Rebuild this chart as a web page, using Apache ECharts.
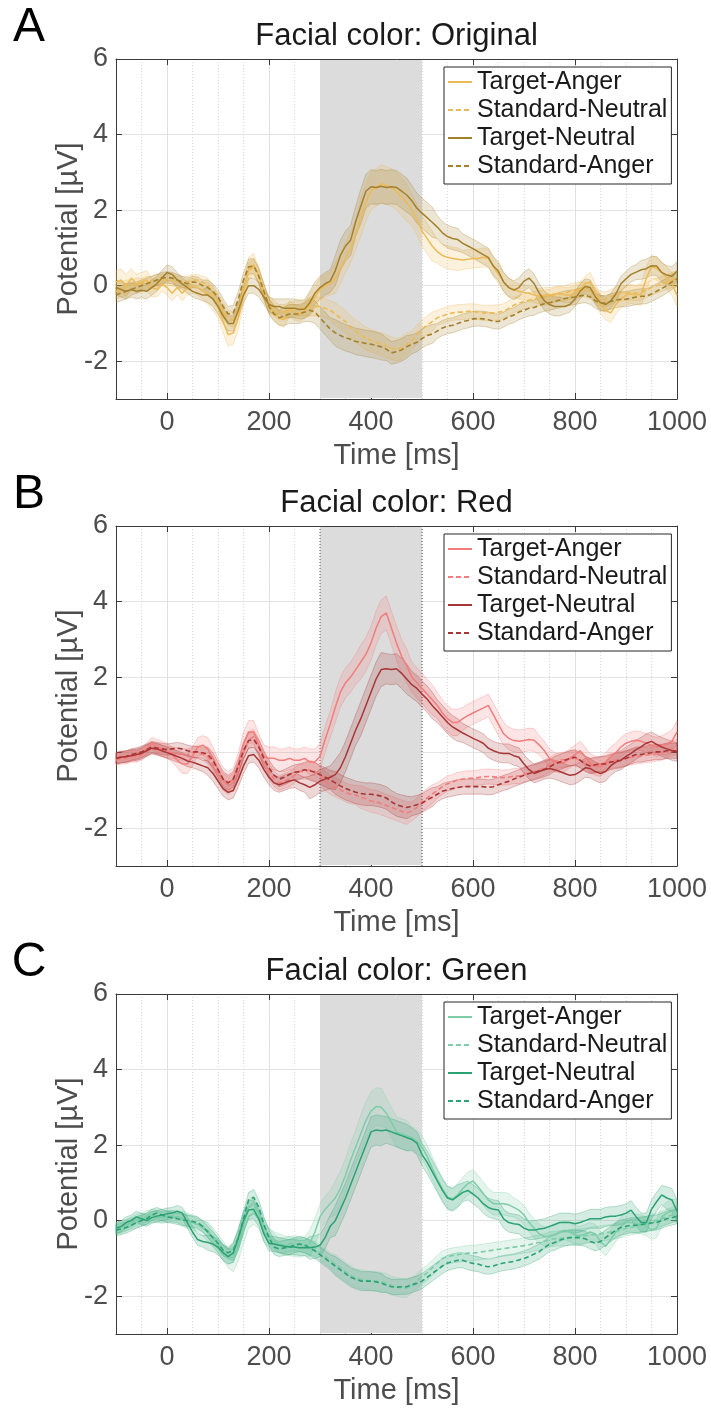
<!DOCTYPE html>
<html><head><meta charset="utf-8">
<script src="https://cdn.jsdelivr.net/npm/echarts@6/dist/echarts.min.js"></script>
<style>html,body{margin:0;padding:0;background:#fff}#chart{width:711px;height:1411px}</style>
</head><body><div id="chart"></div>
<script>
// ---------------- DATA ----------------
const times = [
 -100,-90,-80,-70,-60,-50,-40,-30,-20,-10,
 0,10,20,30,40,50,60,70,80,90,
 100,110,120,130,140,150,160,170,180,190,
 200,210,220,230,240,250,260,270,280,290,
 300,310,320,330,340,350,360,370,380,390,
 400,410,420,430,440,450,460,470,480,490,
 500,510,520,530,540,550,560,570,580,590,
 600,610,620,630,640,650,660,670,680,690,
 700,710,720,730,740,750,760,770,780,790,
 800,810,820,830,840,850,860,870,880,890,
 900,910,920,930,940,950,960,970,980,990,
 1000];
const seTimes = [-100,-50,0,50,100,150,200,250,300,350,400,450,500,550,600,650,700,750,800,850,900,950,1000];
const windowMs = [300, 500];
const xTicks = [0,200,400,600,800,1000];
const yTicks = [-2,0,2,4,6];
const seriesNames = ['Target-Anger','Standard-Neutral','Target-Neutral','Standard-Anger'];
const panelLetters = ['A','B','C'];
const panelTitles = ['Facial color: Original','Facial color: Red','Facial color: Green'];

// Panel A (Original)
const A_TA = [
 0.1,0.15,0.0,0.2,0.05,0.1,0.15,-0.05,-0.1,0.05,
 -0.05,-0.2,-0.05,-0.2,-0.05,0.0,-0.05,-0.15,-0.2,-0.35,
 -0.55,-0.95,-1.3,-1.25,-0.85,-0.2,0.45,0.55,0.25,-0.2,
 -0.55,-0.7,-0.85,-0.9,-0.6,-0.7,-0.75,-0.65,-0.5,-0.3,
 -0.1,0.0,0.05,0.2,0.45,0.75,1.0,1.35,1.8,2.2,
 2.5,2.6,2.7,2.65,2.6,2.5,2.35,2.2,2.0,1.75,
 1.45,1.25,1.05,0.9,0.8,0.75,0.72,0.7,0.68,0.7,
 0.72,0.72,0.75,0.72,0.5,0.3,0.1,-0.05,-0.1,-0.15,
 -0.18,-0.2,-0.25,-0.28,-0.25,-0.25,-0.22,-0.2,-0.25,-0.25,
 -0.2,-0.1,0.05,0.1,-0.2,-0.5,-0.65,-0.72,-0.5,-0.35,
 -0.25,-0.22,-0.25,-0.22,0.2,0.5,0.45,0.35,0.2,0.05,
 -0.25];
const A_SN = [
 -0.15,-0.1,-0.05,0.0,0.05,0.05,0.1,0.1,0.15,0.15,
 0.15,0.15,0.1,0.1,0.1,0.15,0.15,0.1,0.0,-0.2,
 -0.4,-0.65,-0.85,-0.9,-0.6,-0.1,0.4,0.5,0.3,-0.15,
 -0.5,-0.6,-0.7,-0.7,-0.65,-0.6,-0.6,-0.6,-0.55,-0.55,
 -0.55,-0.6,-0.65,-0.75,-0.85,-0.95,-1.1,-1.2,-1.3,-1.4,
 -1.45,-1.5,-1.55,-1.6,-1.65,-1.7,-1.65,-1.55,-1.45,-1.3,
 -1.15,-1.05,-0.95,-0.85,-0.8,-0.75,-0.72,-0.7,-0.7,-0.68,
 -0.68,-0.7,-0.72,-0.72,-0.72,-0.7,-0.68,-0.6,-0.52,-0.46,
 -0.42,-0.38,-0.35,-0.33,-0.32,-0.3,-0.25,-0.22,-0.2,-0.15,
 -0.12,-0.1,-0.1,-0.15,-0.25,-0.35,-0.37,-0.3,-0.22,-0.2,
 -0.2,-0.18,-0.2,-0.18,-0.12,-0.05,0.0,0.05,0.1,0.15,
 0.2];
const A_TN = [
 -0.05,-0.1,-0.15,-0.1,-0.15,-0.12,-0.15,-0.05,0.05,0.2,
 0.35,0.3,0.15,0.05,-0.05,-0.15,-0.2,-0.25,-0.25,-0.35,
 -0.55,-0.8,-1.0,-1.0,-0.65,-0.25,0.0,0.0,-0.1,-0.3,
 -0.5,-0.55,-0.55,-0.6,-0.6,-0.6,-0.63,-0.62,-0.45,-0.2,
 -0.05,0.05,0.12,0.4,0.8,1.05,1.2,1.7,2.1,2.5,
 2.62,2.6,2.63,2.6,2.62,2.6,2.5,2.4,2.25,2.05,
 1.92,1.8,1.68,1.55,1.4,1.3,1.25,1.22,1.12,1.05,
 0.98,0.9,0.82,0.75,0.52,0.38,0.1,-0.05,-0.12,-0.05,
 0.12,0.2,0.05,-0.2,-0.4,-0.5,-0.55,-0.55,-0.55,-0.5,
 -0.35,-0.15,-0.02,-0.05,-0.3,-0.45,-0.5,-0.4,-0.22,0.05,
 0.18,0.3,0.36,0.42,0.45,0.53,0.52,0.35,0.28,0.25,
 0.38];
const A_SA = [
 -0.25,-0.2,-0.15,-0.1,-0.05,0.0,0.05,0.1,0.15,0.2,
 0.22,0.2,0.15,0.1,0.05,0.1,0.08,0.0,-0.05,-0.15,
 -0.3,-0.55,-0.75,-0.72,-0.35,0.15,0.5,0.52,0.25,-0.15,
 -0.55,-0.75,-0.85,-0.8,-0.75,-0.75,-0.75,-0.7,-0.65,-0.7,
 -0.85,-1.0,-1.15,-1.25,-1.32,-1.38,-1.42,-1.48,-1.5,-1.53,
 -1.55,-1.58,-1.62,-1.68,-1.78,-1.75,-1.7,-1.62,-1.55,-1.5,
 -1.4,-1.32,-1.28,-1.2,-1.12,-1.07,-1.05,-1.0,-0.95,-0.92,
 -0.88,-0.87,-0.88,-0.9,-0.94,-0.95,-0.9,-0.82,-0.78,-0.7,
 -0.65,-0.6,-0.58,-0.52,-0.48,-0.45,-0.42,-0.38,-0.34,-0.32,
 -0.3,-0.27,-0.25,-0.3,-0.4,-0.46,-0.46,-0.42,-0.38,-0.36,
 -0.36,-0.33,-0.3,-0.28,-0.28,-0.22,-0.15,-0.08,0.0,0.1,
 0.18];
const A_TA_se = [0.3,0.25,0.2,0.2,0.3,0.3,0.2,0.2,0.3,0.4,0.5,0.5,0.4,0.3,0.25,0.25,0.2,0.2,0.2,0.25,0.25,0.3,0.3];
const A_SN_se = [0.2,0.15,0.15,0.15,0.2,0.2,0.2,0.2,0.25,0.3,0.3,0.3,0.25,0.2,0.2,0.2,0.2,0.2,0.2,0.2,0.2,0.2,0.2];
const A_TN_se = [0.2,0.2,0.2,0.15,0.2,0.2,0.2,0.25,0.3,0.4,0.45,0.45,0.4,0.3,0.25,0.25,0.25,0.25,0.2,0.2,0.2,0.25,0.25];
const A_SA_se = [0.2,0.15,0.15,0.15,0.2,0.2,0.2,0.25,0.3,0.35,0.35,0.3,0.25,0.2,0.2,0.2,0.2,0.2,0.2,0.2,0.2,0.2,0.2];

// Panel B (Red)
const B_TA = [
 -0.15,-0.1,-0.12,-0.05,-0.08,0.0,0.1,0.25,0.15,0.1,
 0.05,-0.05,-0.2,-0.3,-0.3,-0.1,0.15,0.2,0.1,-0.15,
 -0.45,-0.7,-0.8,-0.7,-0.3,0.25,0.55,0.55,0.2,-0.1,
 -0.15,-0.15,-0.2,-0.2,-0.15,-0.2,-0.2,-0.15,-0.25,-0.25,
 -0.1,0.35,0.75,1.2,1.6,1.85,2.0,2.2,2.4,2.6,
 2.9,3.3,3.6,3.7,3.3,2.9,2.55,2.3,2.0,1.85,
 1.7,1.55,1.4,1.25,1.05,0.9,0.8,0.8,0.9,0.98,
 1.05,1.12,1.18,1.25,1.0,0.75,0.5,0.38,0.32,0.3,
 0.32,0.35,0.33,0.2,0.05,-0.15,-0.25,-0.28,-0.25,-0.15,
 -0.05,0.05,-0.1,-0.28,-0.35,-0.38,-0.25,-0.1,0.0,0.15,
 0.25,0.3,0.33,0.3,0.25,0.2,0.15,0.2,0.22,0.3,
 0.55];
const B_SN = [
 -0.2,-0.15,-0.15,-0.1,-0.1,-0.05,0.05,0.12,0.08,0.05,
 0.02,0.0,-0.02,-0.05,-0.05,0.0,0.02,-0.05,-0.1,-0.3,
 -0.55,-0.75,-0.85,-0.75,-0.45,0.0,0.35,0.42,0.15,-0.2,
 -0.5,-0.7,-0.8,-0.75,-0.7,-0.6,-0.5,-0.5,-0.45,-0.5,
 -0.6,-0.75,-0.85,-0.92,-0.98,-1.05,-1.1,-1.12,-1.18,-1.22,
 -1.28,-1.3,-1.35,-1.4,-1.45,-1.5,-1.55,-1.6,-1.55,-1.45,
 -1.3,-1.2,-1.1,-1.0,-0.9,-0.82,-0.78,-0.72,-0.7,-0.68,
 -0.68,-0.66,-0.64,-0.63,-0.64,-0.65,-0.66,-0.65,-0.62,-0.62,
 -0.58,-0.54,-0.5,-0.46,-0.4,-0.32,-0.25,-0.2,-0.18,-0.15,
 -0.15,-0.2,-0.28,-0.35,-0.35,-0.3,-0.28,-0.22,-0.2,-0.18,
 -0.15,-0.12,-0.1,-0.08,-0.06,-0.05,-0.02,0.0,0.05,0.12,
 0.15];
const B_TN = [
 -0.15,-0.12,-0.1,-0.08,-0.05,-0.02,0.05,0.12,0.1,0.05,
 0.0,-0.05,-0.1,-0.15,-0.22,-0.25,-0.3,-0.35,-0.4,-0.55,
 -0.75,-0.95,-1.05,-1.0,-0.7,-0.35,-0.08,-0.05,-0.2,-0.45,
 -0.65,-0.8,-0.85,-0.8,-0.75,-0.72,-0.8,-0.85,-0.92,-0.85,
 -0.75,-0.7,-0.65,-0.58,-0.4,-0.1,0.25,0.6,0.9,1.25,
 1.6,1.95,2.2,2.22,2.2,2.22,2.1,1.95,1.8,1.7,
 1.55,1.42,1.25,1.1,0.95,0.8,0.68,0.6,0.52,0.45,
 0.38,0.32,0.25,0.12,0.05,0.0,-0.02,-0.02,-0.08,-0.12,
 -0.3,-0.45,-0.55,-0.5,-0.45,-0.42,-0.45,-0.5,-0.55,-0.6,
 -0.58,-0.5,-0.4,-0.42,-0.5,-0.55,-0.5,-0.35,-0.25,-0.2,
 -0.1,-0.02,0.08,0.16,0.25,0.3,0.22,0.15,0.1,0.05,
 0.02];
const B_SA = [
 -0.15,-0.12,-0.1,-0.05,-0.02,0.02,0.08,0.15,0.12,0.1,
 0.08,0.1,0.12,0.1,0.05,0.02,0.02,0.0,-0.05,-0.2,
 -0.45,-0.7,-0.8,-0.7,-0.35,0.05,0.32,0.35,0.15,-0.15,
 -0.4,-0.6,-0.7,-0.65,-0.58,-0.52,-0.5,-0.45,-0.48,-0.52,
 -0.58,-0.65,-0.72,-0.8,-0.88,-0.95,-1.0,-1.05,-1.08,-1.1,
 -1.1,-1.12,-1.15,-1.2,-1.3,-1.38,-1.42,-1.45,-1.42,-1.38,
 -1.34,-1.25,-1.18,-1.1,-1.02,-0.98,-0.95,-0.92,-0.9,-0.9,
 -0.9,-0.9,-0.9,-0.92,-0.9,-0.85,-0.8,-0.76,-0.7,-0.65,
 -0.6,-0.55,-0.52,-0.48,-0.44,-0.38,-0.3,-0.25,-0.2,-0.15,
 -0.12,-0.2,-0.3,-0.35,-0.32,-0.3,-0.3,-0.25,-0.22,-0.2,
 -0.15,-0.1,-0.05,-0.05,-0.02,0.0,0.02,0.02,0.05,0.05,
 0.05];
const B_TA_se = [0.15,0.15,0.2,0.25,0.3,0.3,0.3,0.3,0.35,0.4,0.45,0.45,0.4,0.35,0.3,0.3,0.3,0.25,0.25,0.25,0.25,0.25,0.3];
const B_SN_se = [0.15,0.15,0.15,0.15,0.2,0.2,0.2,0.2,0.25,0.25,0.3,0.3,0.25,0.2,0.2,0.2,0.2,0.2,0.2,0.2,0.2,0.2,0.2];
const B_TN_se = [0.15,0.15,0.15,0.15,0.2,0.2,0.2,0.2,0.3,0.4,0.45,0.4,0.35,0.3,0.25,0.25,0.25,0.25,0.25,0.25,0.25,0.25,0.25];
const B_SA_se = [0.15,0.15,0.15,0.15,0.2,0.2,0.2,0.2,0.25,0.3,0.3,0.3,0.25,0.2,0.2,0.2,0.2,0.2,0.2,0.2,0.2,0.2,0.2];

// Panel C (Green)
const C_TA = [
 -0.2,-0.15,-0.12,-0.05,0.02,0.05,0.12,0.15,0.12,0.1,
 0.12,0.12,0.1,0.05,0.0,-0.05,-0.1,-0.2,-0.3,-0.45,
 -0.6,-0.8,-1.0,-1.05,-0.75,-0.3,0.1,0.2,0.05,-0.3,
 -0.45,-0.55,-0.6,-0.65,-0.68,-0.7,-0.72,-0.68,-0.6,-0.3,
 0.1,0.3,0.45,0.6,0.85,1.2,1.6,1.95,2.3,2.65,
 2.9,3.02,3.0,2.85,2.6,2.35,2.3,2.25,2.2,2.1,
 1.95,1.7,1.4,1.1,0.85,0.62,0.58,0.68,0.85,0.98,
 1.05,0.9,0.72,0.55,0.45,0.45,0.45,0.42,0.35,0.28,
 0.15,-0.05,-0.2,-0.35,-0.42,-0.42,-0.38,-0.3,-0.25,-0.3,
 -0.38,-0.4,-0.35,-0.3,-0.35,-0.55,-0.68,-0.5,-0.3,-0.15,
 -0.05,-0.05,-0.08,-0.1,-0.15,-0.25,-0.2,0.1,0.2,0.25,
 0.28];
const C_SN = [
 -0.2,-0.18,-0.12,-0.08,-0.05,0.0,0.05,0.1,0.1,0.08,
 0.1,0.12,0.1,0.05,0.0,-0.05,-0.1,-0.15,-0.25,-0.45,
 -0.65,-0.85,-0.95,-0.9,-0.55,-0.05,0.35,0.4,0.2,-0.15,
 -0.4,-0.55,-0.65,-0.65,-0.62,-0.6,-0.62,-0.65,-0.7,-0.75,
 -0.85,-0.95,-1.05,-1.15,-1.25,-1.35,-1.45,-1.52,-1.55,-1.58,
 -1.6,-1.6,-1.62,-1.65,-1.72,-1.75,-1.78,-1.78,-1.72,-1.6,
 -1.48,-1.38,-1.25,-1.12,-1.0,-0.95,-0.92,-0.9,-0.88,-0.86,
 -0.86,-0.84,-0.82,-0.8,-0.78,-0.76,-0.74,-0.72,-0.7,-0.68,
 -0.66,-0.64,-0.6,-0.58,-0.55,-0.5,-0.48,-0.47,-0.46,-0.44,
 -0.42,-0.42,-0.4,-0.38,-0.36,-0.34,-0.32,-0.3,-0.28,-0.25,
 -0.2,-0.18,-0.15,-0.12,-0.1,-0.05,0.0,0.05,0.1,0.15,
 0.2];
const C_TN = [
 -0.2,-0.15,-0.05,0.0,0.1,0.05,0.0,0.08,0.12,0.15,
 0.18,0.2,0.25,0.2,-0.05,-0.3,-0.5,-0.55,-0.58,-0.62,
 -0.7,-0.85,-0.95,-0.85,-0.45,0.0,0.28,0.3,0.05,-0.35,
 -0.6,-0.62,-0.65,-0.68,-0.7,-0.7,-0.72,-0.72,-0.72,-0.7,
 -0.65,-0.45,-0.15,0.0,0.3,0.6,0.95,1.3,1.65,2.0,
 2.35,2.4,2.38,2.4,2.35,2.3,2.25,2.2,2.15,2.05,
 1.75,1.55,1.3,1.05,0.8,0.6,0.55,0.65,0.75,0.8,
 0.7,0.6,0.45,0.35,0.3,0.28,0.05,-0.05,-0.08,-0.1,
 -0.2,-0.25,-0.25,-0.22,-0.2,-0.15,-0.1,-0.05,-0.05,-0.05,
 -0.08,-0.05,0.0,0.05,0.05,0.05,0.1,0.12,0.12,0.15,
 0.2,0.28,0.1,-0.05,-0.05,0.3,0.5,0.68,0.6,0.55,
 0.25];
const C_SA = [
 -0.25,-0.22,-0.18,-0.12,-0.05,0.0,0.05,0.15,0.2,0.15,
 0.1,0.08,0.05,0.02,0.0,-0.02,-0.05,-0.15,-0.3,-0.45,
 -0.6,-0.78,-0.85,-0.78,-0.45,0.05,0.55,0.62,0.35,-0.1,
 -0.45,-0.7,-0.75,-0.72,-0.7,-0.65,-0.62,-0.65,-0.72,-0.8,
 -0.9,-1.0,-1.1,-1.2,-1.3,-1.4,-1.5,-1.55,-1.6,-1.6,
 -1.6,-1.62,-1.65,-1.7,-1.75,-1.76,-1.75,-1.75,-1.7,-1.66,
 -1.6,-1.5,-1.4,-1.3,-1.2,-1.12,-1.08,-1.05,-1.05,-1.1,
 -1.13,-1.15,-1.2,-1.22,-1.2,-1.15,-1.12,-1.1,-1.08,-1.04,
 -1.0,-0.95,-0.88,-0.82,-0.72,-0.62,-0.58,-0.52,-0.47,-0.45,
 -0.45,-0.45,-0.48,-0.55,-0.6,-0.55,-0.45,-0.35,-0.25,-0.18,
 -0.15,-0.12,-0.12,-0.1,-0.08,-0.06,-0.05,0.0,0.05,0.08,
 0.12];
const C_TA_se = [0.15,0.15,0.15,0.2,0.25,0.3,0.25,0.25,0.35,0.45,0.5,0.4,0.3,0.3,0.3,0.3,0.25,0.25,0.25,0.25,0.25,0.25,0.3];
const C_SN_se = [0.15,0.15,0.15,0.15,0.2,0.2,0.2,0.2,0.2,0.25,0.25,0.25,0.2,0.2,0.2,0.2,0.2,0.2,0.2,0.2,0.2,0.2,0.2];
const C_TN_se = [0.15,0.15,0.15,0.15,0.2,0.25,0.2,0.2,0.3,0.4,0.4,0.35,0.3,0.3,0.25,0.25,0.25,0.25,0.25,0.25,0.25,0.25,0.3];
const C_SA_se = [0.15,0.15,0.15,0.15,0.15,0.2,0.2,0.2,0.2,0.25,0.25,0.2,0.2,0.2,0.2,0.2,0.2,0.2,0.2,0.2,0.2,0.2,0.2];

// ---------------- STYLE / LAYOUT ----------------
const FONT = '"Liberation Sans", Arial, Helvetica, sans-serif';
const AXIS = '#3a3a3a', LABEL = '#4d4d4d', TEXT = '#1a1a1a';
const panels = [
  {light:'#EDBB55', dark:'#A4802C', means:[A_TA,A_SN,A_TN,A_SA], ses:[A_TA_se,A_SN_se,A_TN_se,A_SA_se], dotted:false},
  {light:'#F47C7C', dark:'#A83636', means:[B_TA,B_SN,B_TN,B_SA], ses:[B_TA_se,B_SN_se,B_TN_se,B_SA_se], dotted:true},
  {light:'#7ECCA8', dark:'#2BA273', means:[C_TA,C_SN,C_TN,C_SA], ses:[C_TA_se,C_SN_se,C_TN_se,C_SA_se], dotted:false}
];
const gridTops = [59, 526, 994];
const GL = 116, GW = 561, GH = 340;

function rgba(hex, a) {
  const n = parseInt(hex.slice(1), 16);
  return 'rgba(' + ((n >> 16) & 255) + ',' + ((n >> 8) & 255) + ',' + (n & 255) + ',' + a + ')';
}
function seIndex(t) {
  let best = 0;
  for (let j = 1; j < seTimes.length; j++) if (Math.abs(seTimes[j] - t) < Math.abs(seTimes[best] - t)) best = j;
  return best;
}

const grid = [], xAxis = [], yAxis = [], series = [], legend = [], graphic = [];
panels.forEach((p, k) => {
  p.means.forEach((m, i) => { if (m.length !== times.length) console.error('len', k, i, m.length); });
  const top = gridTops[k];
  grid.push({left: GL, top: top, width: GW, height: GH});
  const ax = 3 * k;
  xAxis.push({
    gridIndex: k, type: 'value', position: 'bottom', min: -100, max: 1000,
    axisLine: {show: true, onZero: false, lineStyle: {color: AXIS, width: 1}},
    axisTick: {show: true, inside: true, length: 6, customValues: xTicks, lineStyle: {color: AXIS}},
    axisLabel: {show: true, customValues: xTicks, fontSize: 27, color: LABEL, fontFamily: FONT, margin: 10,
      formatter: v => String(v)},
    splitLine: {show: true, lineStyle: {color: '#e3e3e3', width: 1}},
    name: 'Time [ms]', nameLocation: 'middle', nameGap: 42, nameMoveOverlap: false,
    nameTextStyle: {fontSize: 29, color: LABEL, fontFamily: FONT}
  });
  xAxis.push({
    gridIndex: k, type: 'value', position: 'top', min: -100, max: 1000,
    axisLine: {show: true, onZero: false, lineStyle: {color: AXIS, width: 1}},
    axisTick: {show: true, inside: true, length: 6, customValues: xTicks, lineStyle: {color: AXIS}},
    axisLabel: {show: false}, splitLine: {show: false}
  });
  xAxis.push({
    gridIndex: k, type: 'value', position: 'bottom', min: -100, max: 1000, interval: 50,
    axisLine: {show: false, onZero: false}, axisTick: {show: false}, axisLabel: {show: false},
    splitLine: {show: true, lineStyle: {color: '#dadada', width: 1, type: [1, 2]}}
  });
  yAxis.push({
    gridIndex: k, type: 'value', position: 'left', min: -3, max: 6,
    axisLine: {show: true, onZero: false, lineStyle: {color: AXIS, width: 1}},
    axisTick: {show: true, inside: true, length: 6, customValues: yTicks, lineStyle: {color: AXIS}},
    axisLabel: {show: true, customValues: yTicks, fontSize: 27, color: LABEL, fontFamily: FONT, margin: 8,
      formatter: v => String(v)},
    splitLine: {show: true, lineStyle: {color: '#e3e3e3', width: 1}},
    name: 'Potential [µV]', nameLocation: 'middle', nameGap: 33, nameRotate: 90, nameMoveOverlap: false,
    nameTextStyle: {fontSize: 29, color: LABEL, fontFamily: FONT}
  });
  yAxis.push({
    gridIndex: k, type: 'value', position: 'right', min: -3, max: 6,
    axisLine: {show: true, onZero: false, lineStyle: {color: AXIS, width: 1}},
    axisTick: {show: true, inside: true, length: 6, customValues: yTicks, lineStyle: {color: AXIS}},
    axisLabel: {show: false}, splitLine: {show: false}
  });
  yAxis.push({gridIndex: k, type: 'value', show: false, min: -3, max: 6});

  // shaded analysis window
  series.push({
    type: 'custom', xAxisIndex: ax, yAxisIndex: ax, z: 1, silent: true,
    data: [windowMs],
    renderItem: (params, api) => {
      const cs = params.coordSys;
      const x0 = api.coord([api.value(0), 0])[0];
      const x1 = api.coord([api.value(1), 0])[0];
      const children = [{type: 'rect', shape: {x: x0, y: cs.y + 1, width: x1 - x0, height: cs.height - 2}, style: {fill: '#dcdcdc'}}];
      if (p.dotted) {
        [x0, x1].forEach(xx => children.push({type: 'line', shape: {x1: xx, y1: cs.y, x2: xx, y2: cs.y + cs.height},
          style: {stroke: '#555', lineWidth: 1, lineDash: [1, 2]}}));
      }
      return {type: 'group', children: children};
    }
  });

  const colors = [p.light, p.light, p.dark, p.dark];
  const dashed = [false, true, false, true];
  // confidence bands
  p.means.forEach((m, i) => {
    const se = p.ses[i];
    series.push({
      type: 'custom', xAxisIndex: ax, yAxisIndex: ax, z: 2, silent: true,
      data: [[times[0], m[0]]],
      renderItem: (params, api) => {
        const up = [], lo = [];
        for (let j = 0; j < times.length; j++) {
          const s = se[seIndex(times[j])];
          up.push(api.coord([times[j], m[j] + s]));
          lo.push(api.coord([times[j], m[j] - s]));
        }
        return {type: 'polygon', shape: {points: up.concat(lo.reverse())},
          style: {fill: rgba(colors[i], 0.2), stroke: rgba(colors[i], 0.4), lineWidth: 0.8}};
      }
    });
  });
  // mean lines
  p.means.forEach((m, i) => {
    series.push({
      type: 'line', name: panelLetters[k] + '|' + seriesNames[i],
      xAxisIndex: ax, yAxisIndex: ax, z: 3, silent: true,
      symbol: 'none', showSymbol: false, smooth: false, clip: true,
      data: times.map((t, j) => [t, m[j]]),
      lineStyle: {color: colors[i], width: dashed[i] ? 1.6 : 1.5, type: dashed[i] ? [5, 3] : 'solid'},
      itemStyle: {color: colors[i]}
    });
  });

  legend.push({
    orient: 'vertical', left: 444, top: top + 8,
    data: seriesNames.map(n => panelLetters[k] + '|' + n),
    formatter: n => n.split('|')[1],
    itemWidth: 24, itemHeight: 1, itemGap: 0,
    padding: [1, 4, 4, 3],
    borderColor: '#262626', borderWidth: 1, backgroundColor: '#ffffff',
    textStyle: {fontSize: 25, color: TEXT, fontFamily: FONT, lineHeight: 28},
    selectedMode: false, z: 6
  });

  graphic.push({type: 'text', x: GL + GW / 2, y: top - 22.5, z: 10,
    style: {text: panelTitles[k], fontSize: 31, fontFamily: FONT, fill: TEXT, align: 'center', verticalAlign: 'middle'}});
  graphic.push({type: 'text', x: 29, y: top - 31.5, z: 10,
    style: {text: panelLetters[k], fontSize: 48, fontFamily: FONT, fill: '#000', align: 'center', verticalAlign: 'middle'}});
});

const chart = echarts.init(document.getElementById('chart'), null, {renderer: 'canvas'});
chart.setOption({
  animation: false, backgroundColor: '#ffffff',
  grid: grid, xAxis: xAxis, yAxis: yAxis, series: series, legend: legend, graphic: graphic
});
</script>
</body></html>
